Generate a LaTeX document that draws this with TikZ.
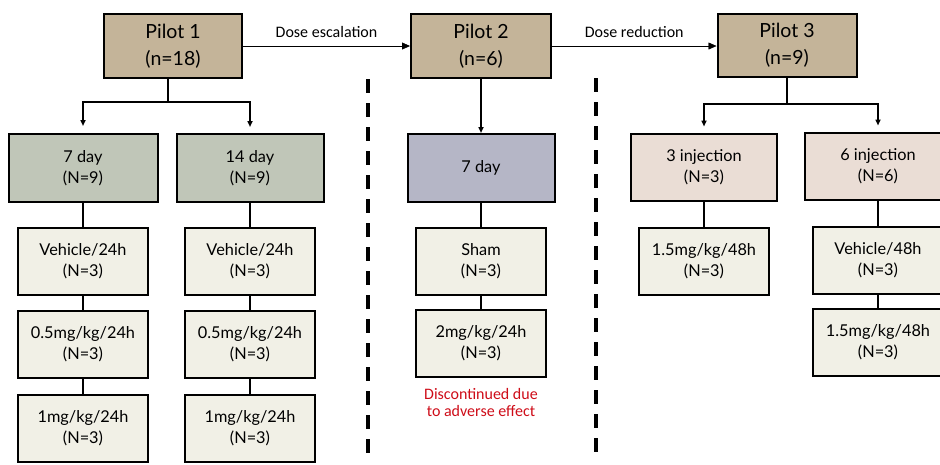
\documentclass[tikz,border=0pt]{standalone}
\usepackage{fontspec}
\setmainfont{Lato}
\newfontfamily\calib{Carlito}
\usetikzlibrary{arrows.meta,positioning}

\definecolor{pilotfill}{RGB}{196,180,153}
\definecolor{dayfill}{RGB}{192,198,184}
\definecolor{shamfill}{RGB}{181,182,198}
\definecolor{injfill}{RGB}{234,221,213}
\definecolor{armfill}{RGB}{241,240,230}
\definecolor{warnred}{RGB}{206,12,24}

\begin{document}
\begin{tikzpicture}[
                        x = 1pt,
                        y = -1pt,
                        > = {Triangle[length=8pt,width=7pt]},
                        auto,
                        node distance = 14pt
                        ]

                        \tikzstyle{pilot}=[
                                draw = black,
                                line width = 2pt,
                                fill = pilotfill,
                                align = center,
                                minimum width = 138pt,
                                minimum height = 64pt,
                                font = \fontsize{19.5}{27}\selectfont
                        ]
                        \tikzstyle{group}=[
                                draw = black,
                                line width = 2pt,
                                align = center,
                                minimum width = 147pt,
                                minimum height = 68pt,
                                font = \fontsize{16.3}{21}\selectfont
                        ]
                        \tikzstyle{arm}=[group, fill = armfill, minimum width = 130pt, minimum height = 67pt]
                        \tikzstyle{link}=[line width = 1.8pt]
                        \tikzstyle{split}=[link, -{Triangle[length=6pt,width=5pt]}]
                        \tikzstyle{divider}=[line width = 4pt, dash pattern = on 14pt off 10pt]

                        \useasboundingbox (0,0) rectangle (940,464);

                        \node[pilot] (1) at (173,46) {Pilot 1\\(n=18)};
                        \node[pilot, minimum width = 140pt] (2) at (481,46) {Pilot 2\\(n=6)};
                        \node[pilot, minimum width = 139pt, minimum height = 63pt] (3) at (787,45) {Pilot 3\\(n=9)};

                        \node[group, fill = dayfill, minimum width = 149pt] (4) at (83,168) {7 day\\(N=9)};
                        \node[group, fill = dayfill] (5) at (250,168) {14 day\\(N=9)};
                        \node[group, fill = shamfill] (6) at (481,168) {7 day};
                        \node[group, fill = injfill, minimum width = 146pt, minimum height = 67pt] (7) at (704,167) {3 injection\\(N=3)};
                        \node[group, fill = injfill, minimum width = 146pt, minimum height = 67pt] (8) at (878,166) {6 injection\\(N=6)};

                        \node[arm, below = 24pt of 4] (9) {Vehicle/24h\\(N=3)};
                        \node[arm, below = of 9] (10) {0.5mg/kg/24h\\(N=3)};
                        \node[arm, below = 15pt of 10] (11) {1mg/kg/24h\\(N=3)};

                        \node[arm, below = 24pt of 5] (12) {Vehicle/24h\\(N=3)};
                        \node[arm, below = of 12] (13) {0.5mg/kg/24h\\(N=3)};
                        \node[arm, below = 15pt of 13] (14) {1mg/kg/24h\\(N=3)};

                        \node[arm, below = 24pt of 6] (15) {Sham\\(N=3)};
                        \node[arm, below = 13pt of 15] (16) {2mg/kg/24h\\(N=3)};
                        \node[below = 8pt of 16, inner sep = 2pt, align = center, text = warnred,
                              font = \calib\fontsize{16}{17}\selectfont] (17) {Discontinued due\\to adverse effect};

                        \node[arm, below = 25pt of 7] (18) {1.5mg/kg/48h\\(N=3)};
                        \node[arm, below = 25pt of 8] (19) {Vehicle/48h\\(N=3)};
                        \node[arm, below = 13pt of 19] (20) {1.5mg/kg/48h\\(N=3)};

                        % dose changes between pilots
                        \draw[->] (1) -- (2) node[midway, above = 6pt, inner sep = 2pt, font = \calib\fontsize{16}{18}\selectfont] {Dose escalation};
                        \draw[->] (2.east) -- (3.west |- 2.east) node[midway, above = 6pt, inner sep = 2pt, font = \calib\fontsize{16}{18}\selectfont] {Dose reduction};

                        % splits
                        \coordinate (b1) at (168,102);
                        \coordinate (b3) at (787,104);
                        \draw[link] (1.south -| b1) -- (b1);
                        \draw[split, shorten > = 7pt] (b1) -| (4.north);
                        \draw[split, shorten > = 6pt] (b1) -| (5.north);
                        \draw[split] (2) -- (6);
                        \draw[link] (3) -- (b3);
                        \draw[split, shorten > = 6pt] (b3) -| (7.north);
                        \draw[split, shorten > = 6pt] (b3) -| (8.north);

                        % arms
                        \draw[link] (4) -- (9) -- (10) -- (11);
                        \draw[link] (5) -- (12) -- (13) -- (14);
                        \draw[link] (6) -- (15) -- (16);
                        \draw[link] (7) -- (18);
                        \draw[link] (8) -- (19) -- (20);

                        \draw[divider] (368,79) -- (368,458);
                        \draw[divider] (596,78) -- (596,458);
                \end{tikzpicture}
\end{document}
